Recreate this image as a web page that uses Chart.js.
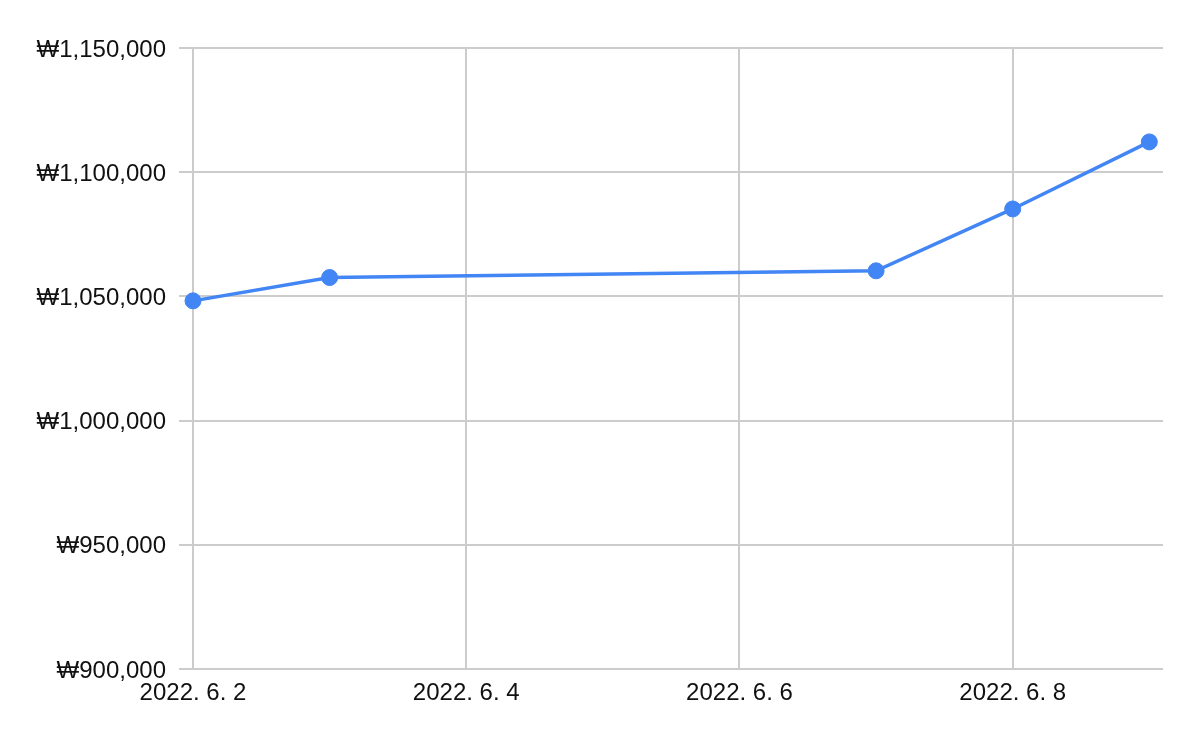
<!DOCTYPE html>
<html>
<head>
<meta charset="utf-8">
<script src="https://cdn.jsdelivr.net/npm/chart.js@4"></script>
<style>
  html, body { margin: 0; padding: 0; background: #fff; }
  #wrap { width: 1200px; height: 742px; }
</style>
</head>
<body>
<div id="wrap"><canvas id="chart" width="1200" height="742"></canvas></div>
<script>
// values
const dates = ['2022-06-02', '2022-06-03', '2022-06-07', '2022-06-08', '2022-06-09'];
const prices = [1048200, 1057600, 1060300, 1085200, 1112200];
const xTickDays = [2, 4, 6, 8];
const yMin = 900000;
const yMax = 1150000;
const yStep = 50000;

const points = dates.map((d, i) => ({ x: Number(d.slice(8)), y: prices[i] }));

const gridColor = '#cccccc';
const textColor = '#111111';
const blue = '#4285f4';
const labelFont = { family: "'Liberation Sans', Arial, sans-serif", size: 24 };

new Chart(document.getElementById('chart').getContext('2d'), {
    type: 'line',
    data: {
        datasets: [{
            label: 'price',
            data: points,
            borderColor: blue,
            backgroundColor: blue,
            borderWidth: 3.5,
            pointRadius: 8,
            pointBorderWidth: 1,
            pointBackgroundColor: blue,
            pointBorderColor: blue,
            tension: 0,
            clip: false
        }]
    },
    options: {
        responsive: false,
        animation: false,
        layout: { padding: { top: 48, right: 37, bottom: 0, left: 0 } },
        plugins: {
            legend: { display: false },
            tooltip: { enabled: false }
        },
        scales: {
            x: {
                type: 'linear',
                min: 2,
                max: 9.1,
                border: { display: false },
                grid: { color: gridColor, lineWidth: 2, drawTicks: false },
                ticks: {
                    color: textColor,
                    font: labelFont,
                    padding: 10,
                    maxRotation: 0,
                    callback: v => '2022. 6. ' + v
                },
                afterBuildTicks: scale => {
                    scale.ticks = xTickDays.map(v => ({ value: v }));
                },
                afterFit: scale => { scale.height = 73; }
            },
            y: {
                min: yMin,
                max: yMax,
                border: { display: false },
                grid: { color: gridColor, lineWidth: 2, drawTicks: true, tickLength: 14 },
                ticks: {
                    stepSize: yStep,
                    color: textColor,
                    padding: 13,
                    labelOffset: 2,
                    font: labelFont,
                    callback: v => '₩' + v.toLocaleString('en-US')
                },
                afterFit: scale => { scale.width = 193; }
            }
        }
    }
});
</script>
</body>
</html>
